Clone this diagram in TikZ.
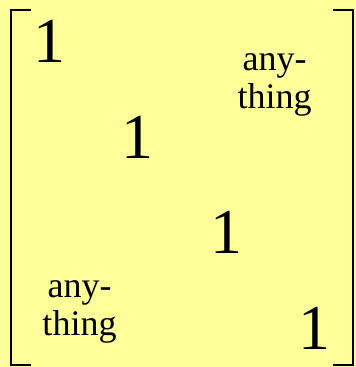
\documentclass[tikz,border=0pt]{standalone}
\usepackage{fontspec}
\setmainfont{Liberation Serif}
\usepackage{tikz}
\usepackage{xcolor}
\definecolor{mxyellow}{RGB}{255,255,153}
\definecolor{mxink}{RGB}{0,0,0}
\tikzset{
    unit/.style={
        inner sep=0pt,anchor=base,text=mxink,
        font=\fontsize{64}{64}\selectfont
    },
    filler/.style={
        inner sep=0pt,anchor=base,align=center,text=mxink,
        font=\fontsize{36}{38}\selectfont
    },
    bracket/.style={
        draw=mxink,line width=2.5pt
    }
}

\begin{document}
\begin{tikzpicture}[x=1pt,y=-1pt]

\fill[mxyellow](0,0)rectangle(356,367);
\useasboundingbox(0,0)rectangle(356,367);

% diagonal entries
\node[unit](one1) at (50,62){1};
\node[unit](one2) at (137.5,158){1};
\node[unit](one3) at (226,253){1};
\node[unit](one4) at (314,349){1};

% off-diagonal blocks
\node[filler](upper) at (274.5,108){any-\\thing};
\node[filler](lower) at (79.5,335){any-\\thing};

% brackets
\draw[bracket](31,10)--(11,10)--(11,365)--(31,365);
\draw[bracket](333,10)--(353,10)--(353,365)--(333,365);

\end{tikzpicture}
\end{document}
